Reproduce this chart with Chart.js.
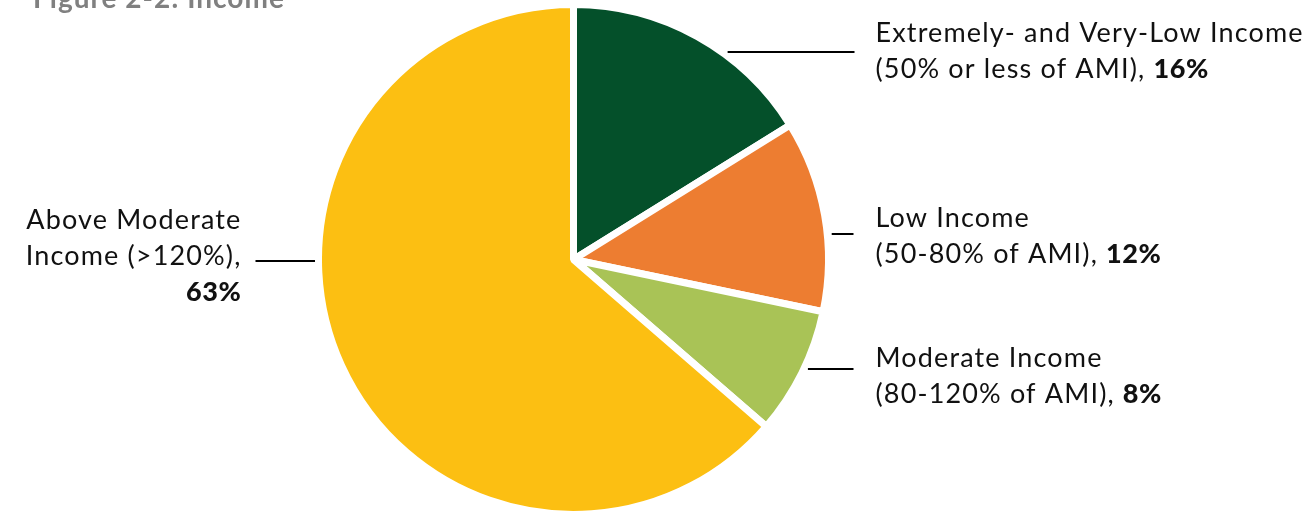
<!DOCTYPE html>
<html>
<head>
<meta charset="utf-8">
<title>Figure 2-2: Income</title>
<script src="https://cdn.jsdelivr.net/npm/chart.js@4"></script>
<style>
  html, body { margin: 0; padding: 0; background: #fff; }
  #wrap { position: relative; width: 1311px; height: 512px; overflow: hidden; }
</style>
</head>
<body>
<div id="wrap">
  <canvas id="incomeChart" width="1311" height="512"></canvas>
</div>
<script>
// Share of households by income group
const categories = ["Extremely- and Very-Low Income", "Low Income", "Moderate Income", "Above Moderate Income"];
const amiRanges = ["(50% or less of AMI)", "(50-80% of AMI)", "(80-120% of AMI)", "(>120%)"];
const shares = [16, 12, 8, 63];
const sliceColors = ["#04502A", "#ED7D31", "#A9C356", "#FCBF12"];

const FONT = "Lato, 'Open Sans', sans-serif";

// text runs for each callout; the percentage is bold
function calloutText(i) {
  const pct = shares[i] + "%";
  if (i === 3) {
    return [
      [{ t: "Above Moderate" }],
      [{ t: "Income " + amiRanges[3] + "," }],
      [{ t: pct, bold: true }],
    ];
  }
  return [
    [{ t: categories[i] }],
    [{ t: amiRanges[i] + ", " }, { t: pct, bold: true }],
  ];
}

// leader lines + labels, placed relative to the pie centre
const calloutPlugin = {
  id: "callouts",
  afterDraw(chart, args, opts) {
    const ctx = chart.ctx;
    const meta = chart.getDatasetMeta(0);
    const first = meta.data[0];
    const cx = first.x, cy = first.y;
    const r = first.outerRadius - opts.borderWidth / 2;

    ctx.save();
    // title, mostly above the top edge
    ctx.fillStyle = "#808080";
    ctx.font = "bold 28px " + FONT;
    ctx.letterSpacing = "1px";
    ctx.textBaseline = "alphabetic";
    ctx.textAlign = "left";
    ctx.fillText("Figure 2-2: Income", 33, 8);

    opts.items.forEach((c, i) => {
      const dy = c.lineY - cy;
      const edge = Math.sqrt(Math.max(r * r - dy * dy, 0));
      const side = c.align === "right" ? -1 : 1;
      const x1 = cx + side * (edge + c.gap);
      const x2 = cx + c.lineTo;
      ctx.strokeStyle = "#000";
      ctx.lineWidth = 2;
      ctx.beginPath();
      ctx.moveTo(x1, c.lineY);
      ctx.lineTo(x2, c.lineY);
      ctx.stroke();

      ctx.fillStyle = "#111";
      const lines = calloutText(i);
      const setFont = (run) => {
        ctx.font = (run.bold ? "900 " : "") + opts.fontSize + "px " + FONT;
        ctx.letterSpacing = run.bold ? "0.6px" : opts.letterSpacing;
      };
      lines.forEach((runs, li) => {
        const y = c.textY + li * opts.lineHeight;
        const widths = runs.map((run) => {
          setFont(run);
          return ctx.measureText(run.t).width;
        });
        const total = widths.reduce((a, b) => a + b, 0);
        let x = cx + c.textX - (c.align === "right" ? total : 0);
        runs.forEach((run, ri) => {
          setFont(run);
          ctx.fillText(run.t, x, y);
          x += widths[ri];
        });
      });
    });
    ctx.restore();
  },
};

const ctx = document.getElementById("incomeChart").getContext("2d");
new Chart(ctx, {
  type: "pie",
  data: {
    labels: categories,
    datasets: [
      {
        data: shares,
        backgroundColor: sliceColors,
        borderColor: "#ffffff",
        borderWidth: 7,
        radius: 255,
      },
    ],
  },
  options: {
    responsive: false,
    animation: false,
    layout: { padding: { top: 7, right: 164, left: 0, bottom: 0 } },
    plugins: {
      legend: { display: false },
      tooltip: { enabled: false },
      title: { display: false },
      callouts: {
        borderWidth: 7,
        fontSize: 27,
        letterSpacing: "1.15px",
        lineHeight: 36,
        items: [
          { lineY: 52, gap: 12, lineTo: 281, textX: 302, textY: 42, align: "left" },
          { lineY: 234, gap: 8, lineTo: 280, textX: 302, textY: 227, align: "left" },
          { lineY: 369, gap: 8, lineTo: 280, textX: 302, textY: 367, align: "left" },
          { lineY: 261, gap: 7, lineTo: -318, textX: -332, textY: 229, align: "right" },
        ],
      },
    },
  },
  plugins: [calloutPlugin],
});
</script>
</body>
</html>
